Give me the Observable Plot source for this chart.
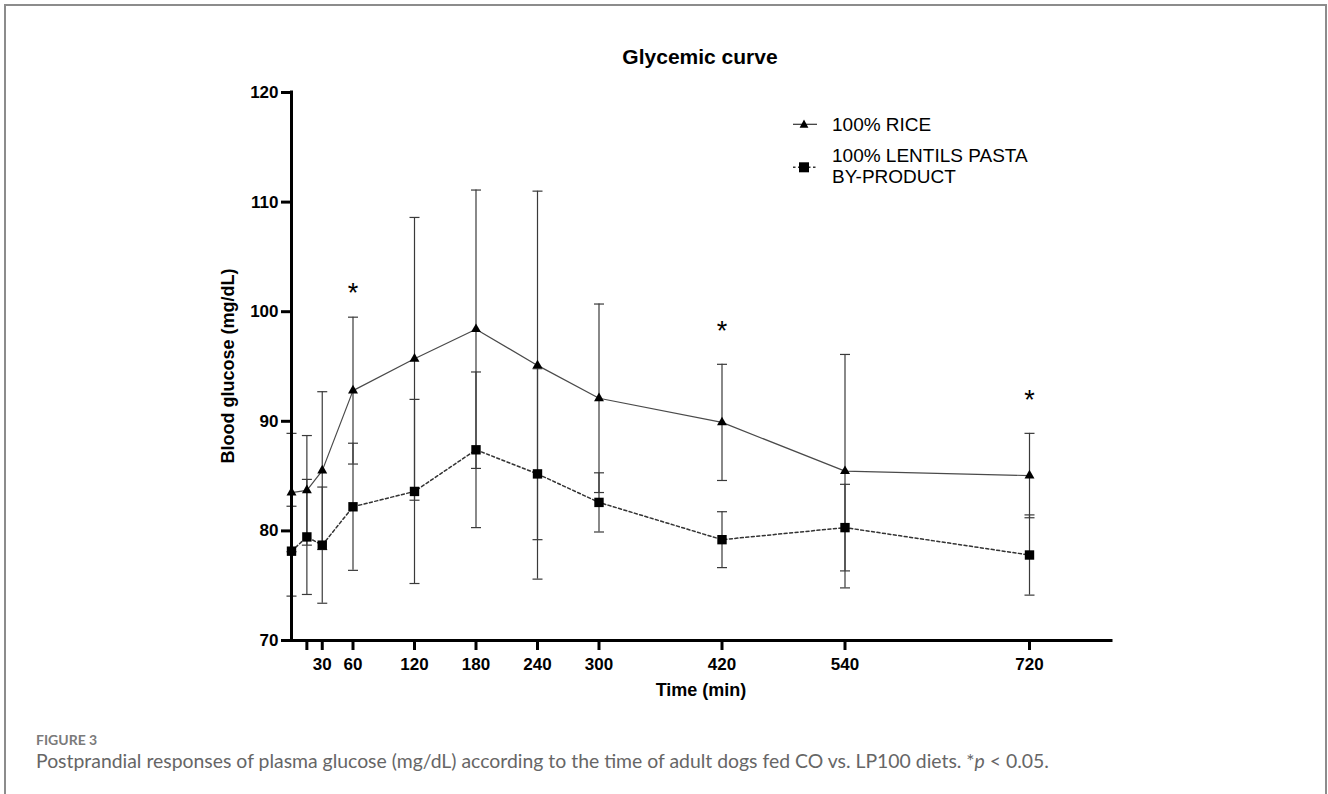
<!DOCTYPE html>
<html><head><meta charset="utf-8">
<script src="https://cdn.jsdelivr.net/npm/d3@7"></script>
<script src="https://cdn.jsdelivr.net/npm/@observablehq/plot@0.6"></script>
<style>
body{margin:0;background:#fff;}
#wrap{position:relative;width:1328px;height:794px;overflow:hidden;font-family:"Liberation Sans",Arial,sans-serif;color:#000;}
#frame{position:absolute;left:4px;top:4px;width:1323px;height:900px;border:2px solid #8c8c8c;box-sizing:border-box;}
#chart{position:absolute;left:0;top:0;}
#chart g[aria-label$="axis tick"], #chart g[aria-label$="axis tick"] path{stroke-width:3px;}
#chart g[aria-label$="tick label"], #chart g[aria-label$="tick label"] text{font-size:17px;font-weight:bold;}
.abs{position:absolute;white-space:nowrap;line-height:1;}
#title{left:700px;top:46px;transform:translateX(-50%);font-weight:bold;font-size:21px;}
#ylab{left:228px;top:366px;transform:translate(-50%,-50%) rotate(-90deg);font-weight:bold;font-size:18px;}
#xlab{left:701px;top:690px;transform:translate(-50%,-50%);font-weight:bold;font-size:18px;}
.leg{font-size:19px;left:832px;}
#figno{left:36px;top:733px;font-family:Lato,sans-serif;font-weight:700;font-size:14px;color:#7a7a7a;}
#cap{left:36px;top:751px;font-family:Lato,sans-serif;font-size:19.4px;color:#666;}
</style></head>
<body>
<div id="wrap">
  <div id="frame"></div>
  <div id="chart"></div>
  <div id="title" class="abs">Glycemic curve</div>
  <div id="ylab" class="abs">Blood glucose (mg/dL)</div>
  <div id="xlab" class="abs">Time (min)</div>
  <svg class="abs" style="left:790px;top:110px;" width="30" height="70">
    <line x1="3" x2="27" y1="14.3" y2="14.3" stroke="#333" stroke-width="1.2"/>
    <path d="M14,9.6 L18.4,17.8 L9.6,17.8 Z" fill="#000"/>
    <line x1="3" x2="27" y1="57.3" y2="57.3" stroke="#333" stroke-width="1.4" stroke-dasharray="2.5,2.5"/>
    <rect x="9" y="52.3" width="10" height="10" fill="#000"/>
  </svg>
  <div class="abs leg" style="top:115px;">100% RICE</div>
  <div class="abs leg" style="top:146px;">100% LENTILS PASTA</div>
  <div class="abs leg" style="top:167px;">BY-PRODUCT</div>
  <div id="figno" class="abs">FIGURE 3</div>
  <div id="cap" class="abs">Postprandial responses of plasma glucose (mg/dL) according to the time of adult dogs fed CO vs. LP100 diets. *<i>p</i> &lt; 0.05.</div>
</div>
<script>
// Time points (min)
const times = [0, 15, 30, 60, 120, 180, 240, 300, 420, 540, 720];
// 100% RICE: mean and SD
const riceMean = [83.5, 83.7, 85.5, 92.8, 95.7, 98.4, 95.1, 92.1, 89.9, 85.45, 85.05];
const riceSD   = [5.4, 5.0, 7.2, 6.7, 12.9, 12.7, 15.9, 8.6, 5.3, 10.65, 3.85];
// 100% LENTILS PASTA BY-PRODUCT: mean and SD
const lentilMean = [78.15, 79.45, 78.7, 82.2, 83.6, 87.4, 85.2, 82.6, 79.2, 80.3, 77.8];
const lentilSD   = [4.1, 5.25, 5.3, 5.8, 8.4, 7.1, 9.6, 2.7, 2.55, 3.95, 3.66];
// significance markers
const starTimes = [60, 420, 720];
const starValues = [101.7, 98.2, 91.9];
// axis ticks
const xTicks = [15, 30, 60, 120, 180, 240, 300, 420, 540, 720];
const yTicks = [70, 80, 90, 100, 110, 120];

const rice = times.map((t, i) => ({t, m: riceMean[i], sd: riceSD[i]}));
const lentil = times.map((t, i) => ({t, m: lentilMean[i], sd: lentilSD[i]}));
const all = rice.concat(lentil);
const stars = starTimes.map((t, i) => ({t, v: starValues[i]}));

const cap = {draw(ctx) { ctx.moveTo(-5, 0); ctx.lineTo(5, 0); }};
const barColor = "#3a3a3a";

const plot = Plot.plot({
  width: 1328,
  height: 720,
  marginLeft: 291,
  marginRight: 217,
  marginTop: 92,
  marginBottom: 80,
  style: {fontFamily: "'Liberation Sans', Arial, sans-serif", fontSize: "17px", overflow: "visible", background: "transparent"},
  x: {domain: [0, 800], axis: null},
  y: {domain: [70, 120], axis: null},
  marks: [
    Plot.ruleX(all, {x: "t", y1: d => d.m - d.sd, y2: d => d.m + d.sd, stroke: barColor, strokeWidth: 1.2}),
    Plot.dot(all, {x: "t", y: d => d.m + d.sd, symbol: cap, r: 5, stroke: barColor, strokeWidth: 1.2, fill: "none"}),
    Plot.dot(all, {x: "t", y: d => d.m - d.sd, symbol: cap, r: 5, stroke: barColor, strokeWidth: 1.2, fill: "none"}),
    Plot.line(rice, {x: "t", y: "m", stroke: "#4a4a4a", strokeWidth: 1.2}),
    Plot.line(lentil, {x: "t", y: "m", stroke: "#333", strokeWidth: 1.5, strokeDasharray: "3,2.5"}),
    Plot.dot(rice, {x: "t", y: "m", symbol: "triangle", r: 3.7, fill: "#000", stroke: "none"}),
    Plot.dot(lentil, {x: "t", y: "m", symbol: "square", r: 5.3, fill: "#000", stroke: "none"}),
    Plot.text(stars, {x: "t", y: "v", text: () => "*", fontSize: 27, fill: "#000"}),
    Plot.axisY({ticks: yTicks, tickSize: 10, tickPadding: 3, strokeWidth: 3, fontSize: 17, fontWeight: "bold", label: null}),
    Plot.axisX({ticks: xTicks, tickFormat: d => d === 15 ? "" : String(d), tickSize: 10, tickPadding: 7, strokeWidth: 3, fontSize: 17, fontWeight: "bold", label: null}),
    Plot.ruleX([0], {y1: 70, y2: 120, strokeWidth: 3, stroke: "#000", strokeLinecap: "square"}),
    Plot.ruleY([70], {x1: 0, x2: 800, strokeWidth: 3, stroke: "#000", strokeLinecap: "square"})
  ]
});
document.getElementById("chart").appendChild(plot);
</script>
</body></html>
